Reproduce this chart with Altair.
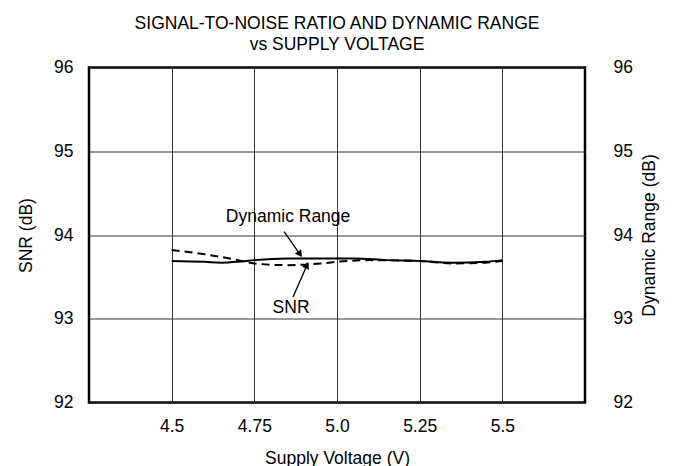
import altair as alt
import pandas as pd

# Data
dr_volts = [4.5, 4.6, 4.65, 4.7, 4.75, 4.85, 4.95, 5.05, 5.15, 5.25, 5.35, 5.45, 5.5]
dr_values = [93.69, 93.68, 93.67, 93.68, 93.70, 93.72, 93.72, 93.72, 93.70, 93.69, 93.67, 93.68, 93.70]
snr_volts = [4.5, 4.6, 4.7, 4.75, 4.85, 4.95, 5.0, 5.1, 5.25, 5.35, 5.45, 5.5]
snr_values = [93.82, 93.77, 93.70, 93.66, 93.64, 93.66, 93.68, 93.70, 93.69, 93.66, 93.67, 93.69]

x_ticks = [4.5, 4.75, 5.0, 5.25, 5.5]
x_tick_labels = ["4.5", "4.75", "5.0", "5.25", "5.5"]
y_ticks = [92, 93, 94, 95, 96]

annot_text = ["Dynamic Range", "SNR"]
annot_x = [4.852, 4.861]
annot_y = [94.215, 93.13]
arrow_x = [4.84, 4.867]
arrow_y = [94.04, 93.26]
arrow_x2 = [4.888, 4.909]
arrow_y2 = [93.77, 93.64]
arrow_angle = [145, 24]

FONT = "Liberation Sans"
FS = 17.5
XDOM = [4.25, 5.75]
YDOM = [92, 96]

dr = pd.DataFrame({"v": dr_volts, "db": dr_values})
snr = pd.DataFrame({"v": snr_volts, "db": snr_values})
ann = pd.DataFrame({"t": annot_text, "x": annot_x, "y": annot_y})
arr = pd.DataFrame({"x": arrow_x, "y": arrow_y, "x2": arrow_x2, "y2": arrow_y2, "a": arrow_angle})

label_map = "{" + ",".join(f"'{v:g}':'{l}'" for v, l in zip(x_ticks, x_tick_labels)) + "}"
label_expr = f"{label_map}[toString(datum.value)]"

xs = alt.Scale(domain=XDOM, nice=False, zero=False)
ys = alt.Scale(domain=YDOM, nice=False, zero=False)
xaxis = alt.Axis(values=x_ticks, labelExpr=label_expr, title="Supply Voltage (V)", grid=True,
                 ticks=False, domain=False, labelPadding=15, titlePadding=14)
yaxis = alt.Axis(values=y_ticks, title="SNR (dB)", grid=True, ticks=False, domain=False,
                 labelPadding=16, titlePadding=18)
yaxis_r = alt.Axis(values=y_ticks, orient="right", title="Dynamic Range (dB)", grid=False,
                   ticks=False, domain=False, labelPadding=28, titlePadding=26, titleAngle=270)

snr_line = alt.Chart(snr).mark_line(color="black", strokeWidth=2, strokeDash=[8, 5], interpolate="monotone").encode(
    x=alt.X("v:Q", scale=xs, axis=xaxis),
    y=alt.Y("db:Q", scale=ys, axis=yaxis),
)

text = alt.Chart(ann).mark_text(font=FONT, fontSize=FS, color="black").encode(
    x=alt.X("x:Q", scale=xs, axis=xaxis),
    y=alt.Y("y:Q", scale=ys, axis=yaxis),
    text="t:N",
)
shafts = alt.Chart(arr).mark_rule(color="black", strokeWidth=1.3).encode(
    x=alt.X("x:Q", scale=xs, axis=xaxis),
    y=alt.Y("y:Q", scale=ys, axis=yaxis),
    x2="x2:Q", y2="y2:Q",
)
heads = alt.Chart(arr).mark_point(shape="triangle-up", filled=True, color="black", size=60, opacity=1).encode(
    x=alt.X("x2:Q", scale=xs, axis=xaxis),
    y=alt.Y("y2:Q", scale=ys, axis=yaxis),
    angle=alt.Angle("a:Q", scale=None),
)

dr_line = alt.Chart(dr).mark_line(color="black", strokeWidth=2, interpolate="monotone").encode(
    x=alt.X("v:Q", scale=xs, axis=xaxis),
    y=alt.Y("db:Q", scale=ys, axis=yaxis_r),
)

left = alt.layer(snr_line, text, shafts, heads)

chart = alt.layer(left, dr_line).resolve_scale(y="independent").properties(
    width=496, height=335,
    background="white",
    title=alt.TitleParams(["SIGNAL-TO-NOISE RATIO AND DYNAMIC RANGE", "vs SUPPLY VOLTAGE"],
                          font=FONT, fontSize=FS, fontWeight="normal", color="black",
                          anchor="middle", lineHeight=21, offset=5),
    autosize=alt.AutoSizeParams(type="none"),
    padding={"left": 81, "top": 59.5, "right": 80, "bottom": 66},
).configure_view(stroke="black", strokeWidth=2.5).configure_axis(
    labelFont=FONT, titleFont=FONT, labelFontSize=FS, titleFontSize=FS, labelColor="black",
    titleColor="black", titleFontWeight="normal", gridColor="#333", gridWidth=1, gridOpacity=1,
)

chart.save("out.html", embed_options={"renderer": "svg", "actions": False})
